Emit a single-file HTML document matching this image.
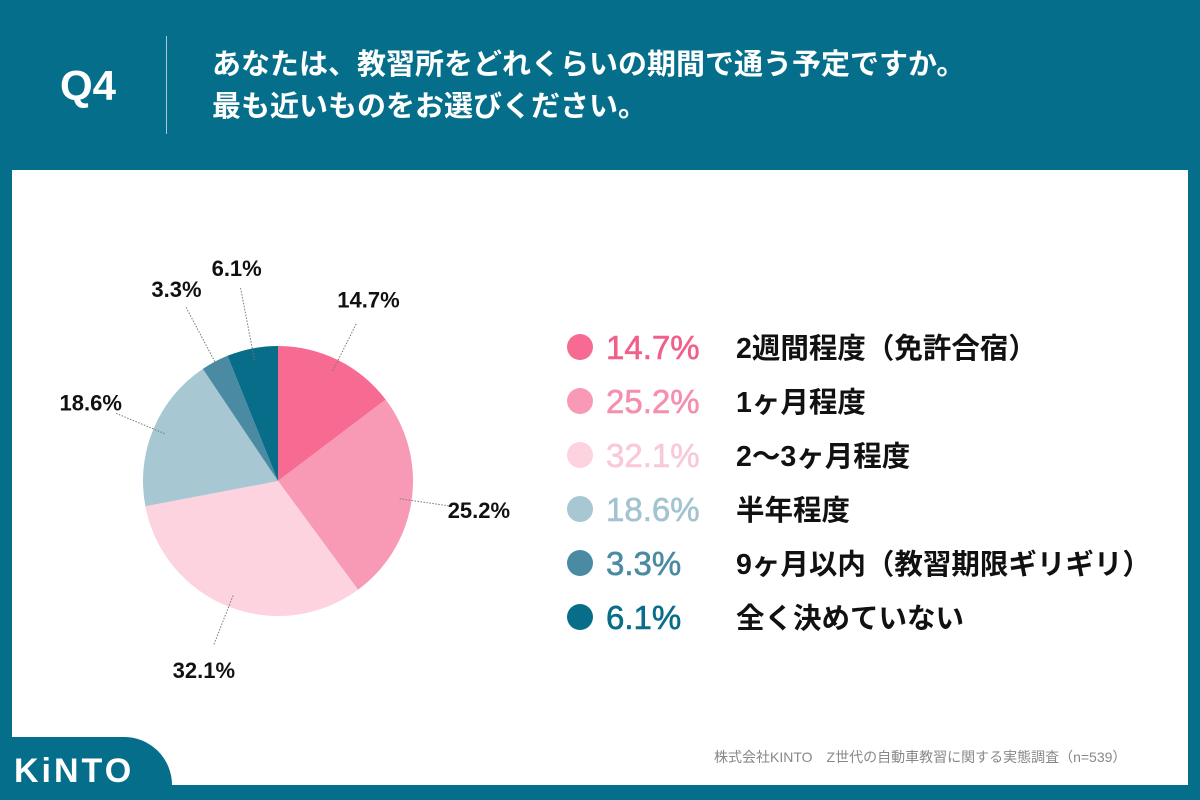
<!DOCTYPE html>
<html><head><meta charset="utf-8"><style>
body{margin:0;width:1200px;height:800px;overflow:hidden;background:#056e8a;font-family:"Liberation Sans","Noto Sans CJK JP",sans-serif;}
.abs{position:absolute}
</style></head><body>
<div class="abs" style="left:0;top:0;width:1200px;height:170px">
 <div class="abs" style="left:60px;top:62px;color:#fff;font-size:42px;font-weight:bold">Q4</div>
 <div class="abs" style="left:166px;top:36px;width:1px;height:98px;background:#a9cbd6"></div>
 <div class="abs" style="left:212px;top:44px;color:#fff;font-size:29px;font-weight:bold;line-height:42px">あなたは、教習所をどれくらいの期間で通う予定ですか。<br>最も近いものをお選びください。</div>
</div>
<div class="abs" style="left:12px;top:170px;width:1176px;height:615px;background:#fff"></div>
<svg class="abs" style="left:0;top:0" width="1200" height="800" id="chart"></svg>
<div class="abs" style="left:0;top:737px;width:172px;height:63px;background:#056e8a;border-top-right-radius:48px"></div>
<div class="abs" style="left:14px;top:752px;color:#fff;font-size:34px;font-weight:bold;letter-spacing:3px">KiNTO</div>
<div class="abs" style="left:714px;top:747px;color:#888;font-size:14px">株式会社KINTO　Z世代の自動車教習に関する実態調査（n=539）</div>
<script>
const categories=["2週間程度（免許合宿）","1ヶ月程度","2〜3ヶ月程度","半年程度","9ヶ月以内（教習期限ギリギリ）","全く決めていない"];
const values=[14.7,25.2,32.1,18.6,3.3,6.1];
const colors=["#f76b93","#f89ab5","#fcd3df","#a7c7d2","#4a8ba3","#086d89"];
const textColors=["#f0608a","#f58fae","#f9c9d7","#a2c3cf","#4a8ba3","#086d89"];
const svg=document.getElementById('chart');
const NS="http://www.w3.org/2000/svg";
const cx=278,cy=481,r=135;
const total=values.reduce((a,b)=>a+b,0);
function pt(a,rr){return [cx+rr*Math.sin(a),cy-rr*Math.cos(a)];}
let acc=0;
values.forEach((v,i)=>{
 const a0=acc/total*2*Math.PI;acc+=v;const a1=acc/total*2*Math.PI;
 const p0=pt(a0,r),p1=pt(a1,r);
 const p=document.createElementNS(NS,'path');
 p.setAttribute('d',`M${cx},${cy}L${p0[0]},${p0[1]}A${r},${r} 0 ${a1-a0>Math.PI?1:0} 1 ${p1[0]},${p1[1]}Z`);
 p.setAttribute('fill',colors[i]);
 
 
 svg.appendChild(p);
 const am=(a0+a1)/2;
 const small=v<8;
 const l0=pt(am,r-12),l1=pt(am,r+(small?62:42));
 const ln=document.createElementNS(NS,'line');
 ln.setAttribute('x1',l0[0]);ln.setAttribute('y1',l0[1]);ln.setAttribute('x2',l1[0]);ln.setAttribute('y2',l1[1]);
 ln.setAttribute('stroke','#777');ln.setAttribute('stroke-width','1');ln.setAttribute('stroke-dasharray','1.5,1.5');
 
 
 svg.appendChild(ln);
 const lt=pt(am,r+(small?82:68));
 const t=document.createElementNS(NS,'text');
 t.setAttribute('x',lt[0]);t.setAttribute('y',lt[1]+8);t.setAttribute('text-anchor','middle');
 t.setAttribute('font-size','22');t.setAttribute('font-weight','bold');t.setAttribute('fill','#111');
 t.textContent=v.toFixed(1)+'%';
 
 
 svg.appendChild(t);
});
categories.forEach((c,i)=>{
 const y=347+i*54;
 const ci=document.createElementNS(NS,'circle');
 ci.setAttribute('cx',580);ci.setAttribute('cy',y);ci.setAttribute('r',13);ci.setAttribute('fill',colors[i]);
 
 
 svg.appendChild(ci);
 const tp=document.createElementNS(NS,'text');
 tp.setAttribute('x',606);tp.setAttribute('y',y+12);tp.setAttribute('font-size','33');tp.setAttribute('fill',textColors[i]);
 tp.setAttribute('stroke',textColors[i]);tp.setAttribute('stroke-width','0.6');
 tp.textContent=values[i].toFixed(1)+'%';
 
 
 svg.appendChild(tp);
 const tl=document.createElementNS(NS,'text');
 tl.setAttribute('x',736);tl.setAttribute('y',y+11);tl.setAttribute('font-size','28.5');tl.setAttribute('font-weight','bold');tl.setAttribute('fill','#111');
 tl.textContent=c;
 
 
 svg.appendChild(tl);
});
</script>
</body></html>
